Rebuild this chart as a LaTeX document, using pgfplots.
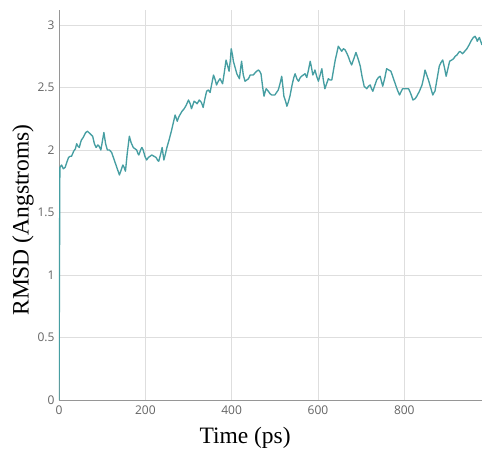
\documentclass[border=0pt]{standalone}
\usepackage{pgfplots}
\pgfplotsset{compat=1.18}
\usepackage{fontspec}
\setmainfont{Liberation Serif}
\newfontfamily\tickfont{Open Sans}
\definecolor{rmsdline}{RGB}{70,158,162}
\definecolor{gridc}{RGB}{222,222,222}
\definecolor{axisc}{RGB}{150,150,150}
\definecolor{tickc}{RGB}{100,100,100}
\begin{document}
\begin{tikzpicture}
\begin{axis}[
  scale only axis,
  width=423pt, height=390pt,
  xmin=0, xmax=980, ymin=0, ymax=3.12,
  axis lines=left,
  axis line style={axisc, line width=0.9pt, -},
  xtick={0,200,400,600,800},
  ytick={0,0.5,1,1.5,2,2.5,3},
  yticklabels={0,0.5,1,1.5,2,2.5,3},
  xticklabels={0,200,400,600,800},
  major tick length=0pt,
  grid=major,
  major grid style={gridc, line width=0.8pt},
  tick label style={font=\tickfont\fontsize{12}{14}\selectfont, text=tickc},
  xticklabel style={yshift=-2pt},
  yticklabel style={xshift=-1pt},
  xlabel={Time (ps)},
  ylabel={RMSD (Angstroms)},
  label style={font=\fontsize{23.5}{26}\selectfont, text=black},
  x label style={at={(axis description cs:0.44,-0.0974)}, anchor=center},
  y label style={at={(axis description cs:-0.0851,0.4615)}, anchor=center},
  clip=true,
]
\addplot[rmsdline, line width=1.35pt, line join=round] coordinates {
(0,0) (2,1.86) (6,1.88) (10,1.85) (14,1.86) (18,1.90) (22,1.94) (26,1.95) (29,1.95) (34,1.99)
(38,2.01) (41,2.05) (44,2.03) (47,2.02) (50,2.06) (52,2.08) (56,2.10) (59,2.12) (62,2.14) (66,2.15)
(69,2.14) (72,2.13) (75,2.12) (78,2.11) (82,2.05) (86,2.02) (90,2.04) (93,2.03) (97,2.00) (101,2.08)
(104,2.14) (108,2.05) (112,2.00) (117,2.00) (122,1.98) (126,1.94) (130,1.90) (135,1.85) (140,1.80) (144,1.84)
(148,1.88) (151,1.86) (154,1.83) (158,1.97) (163,2.11) (167,2.06) (172,2.02) (176,2.01) (180,2.00) (183,1.97)
(185,1.96) (189,2.00) (192,2.02) (195,2.00) (199,1.95) (203,1.92) (207,1.94) (211,1.95) (215,1.96) (220,1.95)
(225,1.94) (228,1.92) (231,1.91) (235,1.96) (239,2.02) (241,1.97) (243,1.92) (246,1.96) (250,2.02) (255,2.08)
(261,2.16) (265,2.22) (269,2.28) (272,2.25) (274,2.23) (277,2.26) (280,2.28) (285,2.31) (290,2.33) (295,2.36)
(300,2.40) (304,2.37) (307,2.33) (310,2.36) (313,2.39) (317,2.38) (320,2.37) (325,2.40) (330,2.38) (334,2.34)
(338,2.41) (342,2.47) (346,2.48) (350,2.46) (354,2.53) (358,2.60) (362,2.56) (365,2.52) (369,2.55) (373,2.57)
(376,2.55) (379,2.53) (383,2.62) (387,2.72) (391,2.67) (394,2.63) (397,2.72) (399,2.81) (402,2.76) (404,2.71)
(408,2.66) (412,2.61) (415,2.59) (418,2.57) (421,2.66) (423,2.71) (427,2.60) (431,2.55) (435,2.56) (439,2.57)
(443,2.60) (447,2.60) (450,2.60) (455,2.62) (458,2.63) (462,2.64) (465,2.63) (468,2.61) (472,2.50) (475,2.43)
(478,2.47) (480,2.49) (485,2.47) (489,2.45) (493,2.44) (497,2.44) (500,2.44) (504,2.46) (508,2.48) (512,2.53)
(516,2.59) (519,2.50) (521,2.43) (525,2.39) (528,2.35) (531,2.38) (535,2.43) (540,2.52) (544,2.58) (547,2.61)
(551,2.57) (555,2.55) (559,2.58) (562,2.59) (566,2.60) (570,2.61) (574,2.58) (578,2.64) (582,2.71) (585,2.66)
(588,2.60) (591,2.62) (593,2.64) (597,2.59) (601,2.55) (605,2.60) (609,2.65) (612,2.57) (616,2.49) (620,2.53)
(624,2.57) (628,2.56) (632,2.56) (636,2.64) (640,2.72) (644,2.78) (647,2.83) (651,2.81) (655,2.79) (659,2.81)
(663,2.80) (666,2.78) (670,2.75) (674,2.71) (678,2.68) (683,2.73) (688,2.78) (693,2.73) (698,2.67) (702,2.59)
(707,2.51) (710,2.50) (713,2.49) (717,2.51) (721,2.52) (724,2.49) (727,2.47) (731,2.51) (736,2.56) (740,2.58)
(744,2.59) (747,2.55) (750,2.51) (755,2.58) (759,2.65) (764,2.64) (769,2.63) (774,2.58) (779,2.53) (784,2.48)
(789,2.44) (793,2.47) (796,2.49) (803,2.49) (810,2.49) (815,2.45) (820,2.40) (825,2.41) (829,2.43) (835,2.47)
(841,2.52) (845,2.58) (848,2.64) (852,2.60) (856,2.56) (861,2.50) (866,2.44) (869,2.46) (871,2.47) (876,2.57)
(881,2.67) (885,2.70) (889,2.72) (893,2.66) (897,2.59) (901,2.65) (905,2.71) (910,2.72) (914,2.73) (918,2.75)
(922,2.76) (926,2.78) (929,2.79) (932,2.78) (935,2.77) (940,2.79) (945,2.81) (950,2.84) (956,2.88) (960,2.90)
(964,2.91) (967,2.89) (969,2.87) (972,2.89) (974,2.90) (977,2.87) (980,2.84)
};
\end{axis}
\pgfresetboundingbox
\useasboundingbox (-59pt,-50pt) rectangle (423pt,400pt);
\end{tikzpicture}
\end{document}
